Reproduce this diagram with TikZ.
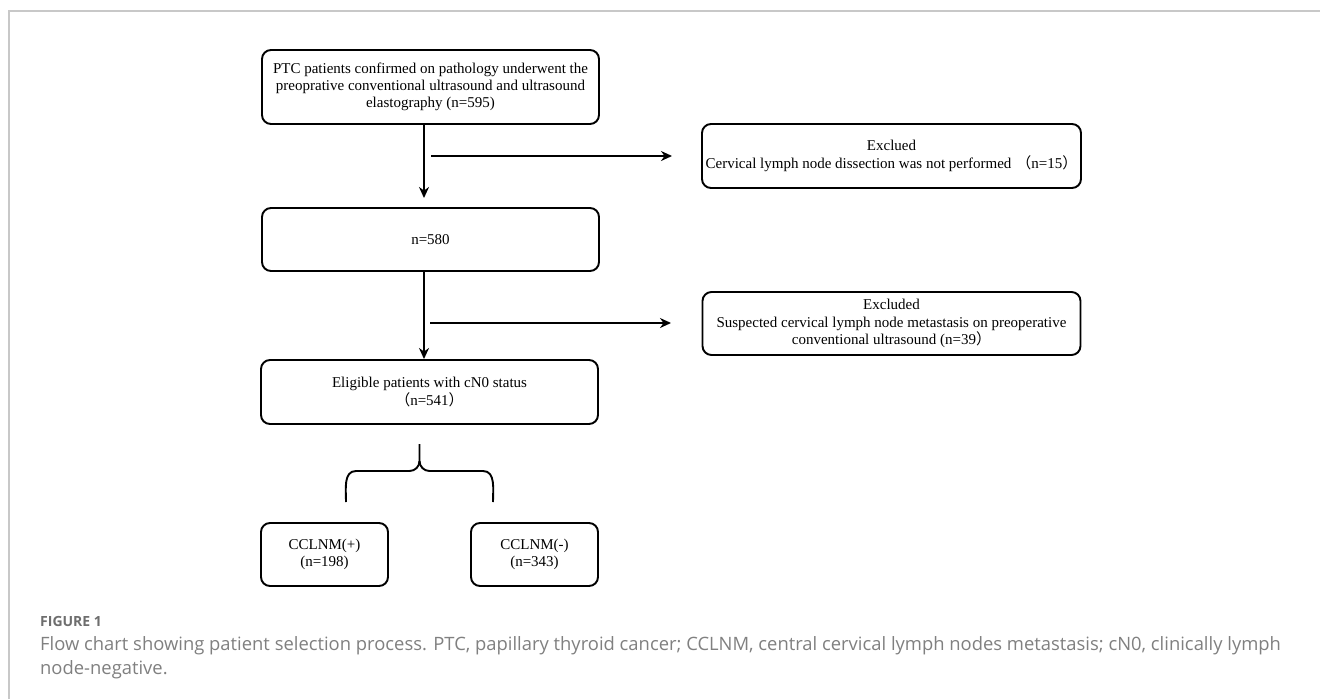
\documentclass[tikz,border=0pt]{standalone}
\usepackage{fontspec}
\setmainfont{Liberation Serif}
\newfontfamily\capfont{Open Sans}
\newfontfamily\cjk{Noto Sans CJK SC}
\usetikzlibrary{arrows.meta}
\definecolor{framegray}{HTML}{C8C8C8}
\definecolor{capgray}{HTML}{808080}
\definecolor{figgray}{HTML}{6E6E6E}
\newcommand{\fl}{{\cjk （}}
\newcommand{\fr}{{\cjk ）}}
\begin{document}
\begin{tikzpicture}[x=1pt,y=-1pt,
  box/.style={draw=black, line width=1.9pt, rounded corners=9pt, inner sep=0pt,
    align=center, font=\fontsize{15}{17.3}\selectfont, text=black},
  arr/.style={draw=black, line width=1.9pt, -{Stealth[length=11pt,width=10pt]}},
  brace/.style={draw=black, line width=1.9pt},
  capstyle/.style={anchor=base west, inner sep=0pt}]
\useasboundingbox (0,0) rectangle (1320,699);
\fill[white] (0,0) rectangle (1320,699);
% frame
\draw[framegray, line width=1.5pt] (9,699) -- (9,11) -- (1320,11);

% boxes
\node[box, minimum width=337pt, minimum height=74pt] (top) at (430.5,87)
  {PTC patients confirmed on pathology underwent the\\preoprative conventional ultrasound and ultrasound\\elastography (n=595)};
\node[box, minimum width=337pt, minimum height=63pt] (n580) at (430.5,239.5) {n=580};
\node[box, minimum width=337pt, minimum height=64pt] (elig) at (429.5,392)
  {Eligible patients with cN0 status\\\fl n=541\fr};
\node[box, minimum width=379pt, minimum height=64pt] (ex1) at (891.5,156)
  {Exclued\\Cervical lymph node dissection was not performed\hspace{5pt}\fl n=15\fr};
\node[box, minimum width=378pt, minimum height=63pt] (ex2) at (891.5,323.5)
  {Excluded\\Suspected cervical lymph node metastasis on preoperative\\conventional ultrasound (n=39\fr};
\node[box, minimum width=127pt, minimum height=63pt] (pos) at (324.5,554.5) {CCLNM(+)\\(n=198)};
\node[box, minimum width=127pt, minimum height=63pt] (neg) at (534.5,554.5) {CCLNM(-)\\(n=343)};

% arrow coordinates
\coordinate (v1s) at (424,124);
\coordinate (v1e) at (424,198);
\coordinate (h1s) at (431,156);
\coordinate (h1e) at (672,156);
\coordinate (v2s) at (424,271);
\coordinate (v2e) at (424,359);
\coordinate (h2s) at (430,323);
\coordinate (h2e) at (671,323);
\draw[arr] (v1s) -- (v1e);
\draw[arr] (h1s) -- (h1e);
\draw[arr] (v2s) -- (v2e);
\draw[arr] (h2s) -- (h2e);

% brace
\coordinate (bt) at (419.5,444);
\coordinate (bl) at (346,502);
\coordinate (br) at (493,502);
\draw[brace] (bt) -- (419.5,461) to[out=-90,in=0] (409.5,471) -- (356,471) to[out=180,in=90] (bl);
\draw[brace] (419.5,461) to[out=-90,in=180] (429.5,471) -- (483,471) to[out=0,in=90] (br);

% caption
\node[capstyle, text=figgray, font=\capfont\bfseries\fontsize{14}{16}\selectfont] (fig) at (40,626) {FIGURE 1};
\node[capstyle, text=capgray, font=\capfont\fontsize{18.4}{22}\selectfont] (cap1) at (40,650)
  {Flow chart showing patient selection process. PTC, papillary thyroid cancer; CCLNM, central cervical lymph nodes metastasis; cN0, clinically lymph};
\node[capstyle, text=capgray, font=\capfont\fontsize{18.4}{22}\selectfont] (cap2) at (40,674) {node-negative.};
\end{tikzpicture}
\end{document}
